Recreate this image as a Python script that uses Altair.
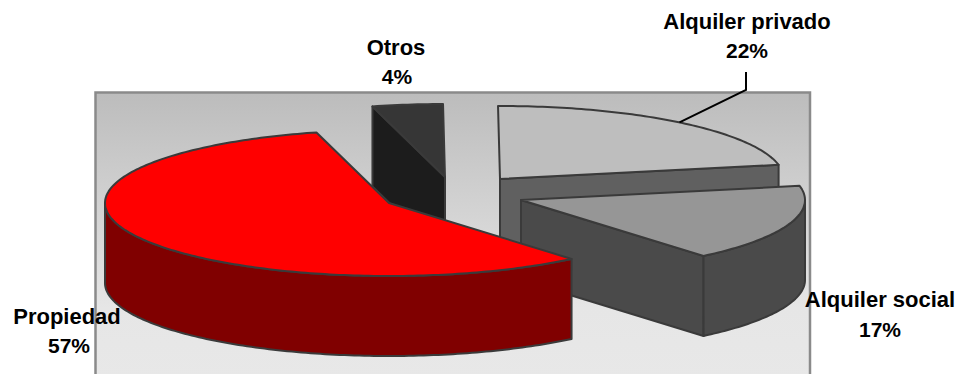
import math
import altair as alt

# Tenure shares, in pie order (clockwise on screen from the start angle)
names = ["Propiedad", "Otros", "Alquiler privado", "Alquiler social"]
shares = [57, 4, 22, 17]

# Slice styling and placement of each exploded slice centre
top_colors = ["#ff0000", "#363636", "#bebebe", "#969696"]
side_colors = ["#800000", "#1c1c1c", "#606060", "#4a4a4a"]
centers = [(389, 203), (445, 177), (500, 179), (521, 200)]
paint_order = [2, 1, 3, 0]  # back to front

# Label anchors: name line then percentage line
label_x = [67, 396, 747, 880]
label_name_y = [317, 48, 22, 300]
label_pct_x = [69, 397, 747, 880]
label_pct_y = [347, 78, 52, 331]

RX, RY, DEPTH = 284, 73, 80
START_DEG = 50
STROKE = "#3a3a3a"


def rim_point(center, deg, drop=0):
    rad = math.radians(deg)
    return [center[0] + RX * math.cos(rad), center[1] + RY * math.sin(rad) + drop]


def arc(center, a0, a1, drop=0):
    steps = max(2, int(abs(a1 - a0)))
    return [rim_point(center, a0 + (a1 - a0) * k / steps, drop) for k in range(steps + 1)]


def polygon(points, fill):
    ring = [*points, points[0]]
    return {
        "type": "Feature",
        "properties": {"fill": fill},
        "geometry": {"type": "Polygon", "coordinates": [ring]},
    }


# Angular span of each slice, derived from the shares
spans = []
cursor = START_DEG
for share in shares:
    spans.append((cursor, cursor + share * 3.6))
    cursor += share * 3.6

features = []
for i in paint_order:
    c, (a0, a1) = centers[i], spans[i]
    c_low = [c[0], c[1] + DEPTH]

    # Straight cut faces that turn towards the viewer
    if i == 1:
        p = rim_point(c, a0)
        features.append(polygon([c, p, [p[0], p[1] + DEPTH], c_low], side_colors[i]))
    if i in (2, 3):
        p = rim_point(c, a1)
        features.append(polygon([c, p, [p[0], p[1] + DEPTH], c_low], side_colors[i]))

    # Curved outer wall: only the near half of the rim is visible
    for lo, hi in [(a0, a1), (a0 - 360, a1 - 360)]:
        vis0, vis1 = max(lo, 0), min(hi, 180)
        if vis1 > vis0:
            features.append(polygon(arc(c, vis0, vis1) + arc(c, vis1, vis0, DEPTH), side_colors[i]))

    # Top face
    features.append(polygon([c] + arc(c, a0, a1), top_colors[i]))

backdrop = alt.Chart(alt.Data(values=[{"k": 0}])).mark_rect(
    fill=alt.Gradient(
        gradient="linear",
        x1=0, y1=0, x2=0, y2=1,
        stops=[
            alt.GradientStop(offset=0, color="#bcbcbc"),
            alt.GradientStop(offset=0.75, color="#e6e6e6"),
            alt.GradientStop(offset=1, color="#e8e8e8"),
        ],
    ),
    stroke="#8a8a8a",
    strokeWidth=2.5,
).encode(x=alt.value(95.5), x2=alt.value(810), y=alt.value(92.5), y2=alt.value(380))

slices = alt.Chart(
    alt.Data(
        values={"type": "FeatureCollection", "features": features},
        format=alt.DataFormat(property="features", type="json"),
    )
).mark_geoshape(stroke=STROKE, strokeWidth=2, strokeJoin="round").encode(
    fill=alt.Color("properties.fill:N", scale=None, legend=None)
).project(type="identity", scale=1, translate=[0, 0])

# Leader from the middle of the private-rental arc up to its label
mid_priv = rim_point(centers[2], sum(spans[2]) / 2 - 360)
leader_feature = {
    "type": "Feature",
    "properties": {},
    "geometry": {"type": "LineString", "coordinates": [mid_priv, [746, 90], [746, 72]]},
}
leader = alt.Chart(
    alt.Data(
        values={"type": "FeatureCollection", "features": [leader_feature]},
        format=alt.DataFormat(property="features", type="json"),
    )
).mark_geoshape(filled=False, stroke="#000000", strokeWidth=2).project(type="identity", scale=1, translate=[0, 0])

rows = [
    {
        "name": n,
        "pct": f"{s}%",
        "x": lx,
        "y": ly,
        "px": px,
        "py": py,
    }
    for n, s, lx, ly, px, py in zip(names, shares, label_x, label_name_y, label_pct_x, label_pct_y)
]
text_style = dict(font="Liberation Sans", fontWeight="bold", color="#000000", align="center", baseline="middle")
name_text = alt.Chart(alt.Data(values=rows)).mark_text(fontSize=22, **text_style).encode(
    x=alt.X("x:Q", scale=None), y=alt.Y("y:Q", scale=None), text="name:N"
)
pct_text = alt.Chart(alt.Data(values=rows)).mark_text(fontSize=21, **text_style).encode(
    x=alt.X("px:Q", scale=None), y=alt.Y("py:Q", scale=None), text="pct:N"
)

chart = (
    alt.layer(backdrop, slices, leader, name_text, pct_text)
    .properties(width=959, height=374, padding=0, autosize="none", background="#ffffff")
    .configure_view(stroke=None)
)

chart.save("out.html", embed_options={"renderer": "svg", "actions": False})
